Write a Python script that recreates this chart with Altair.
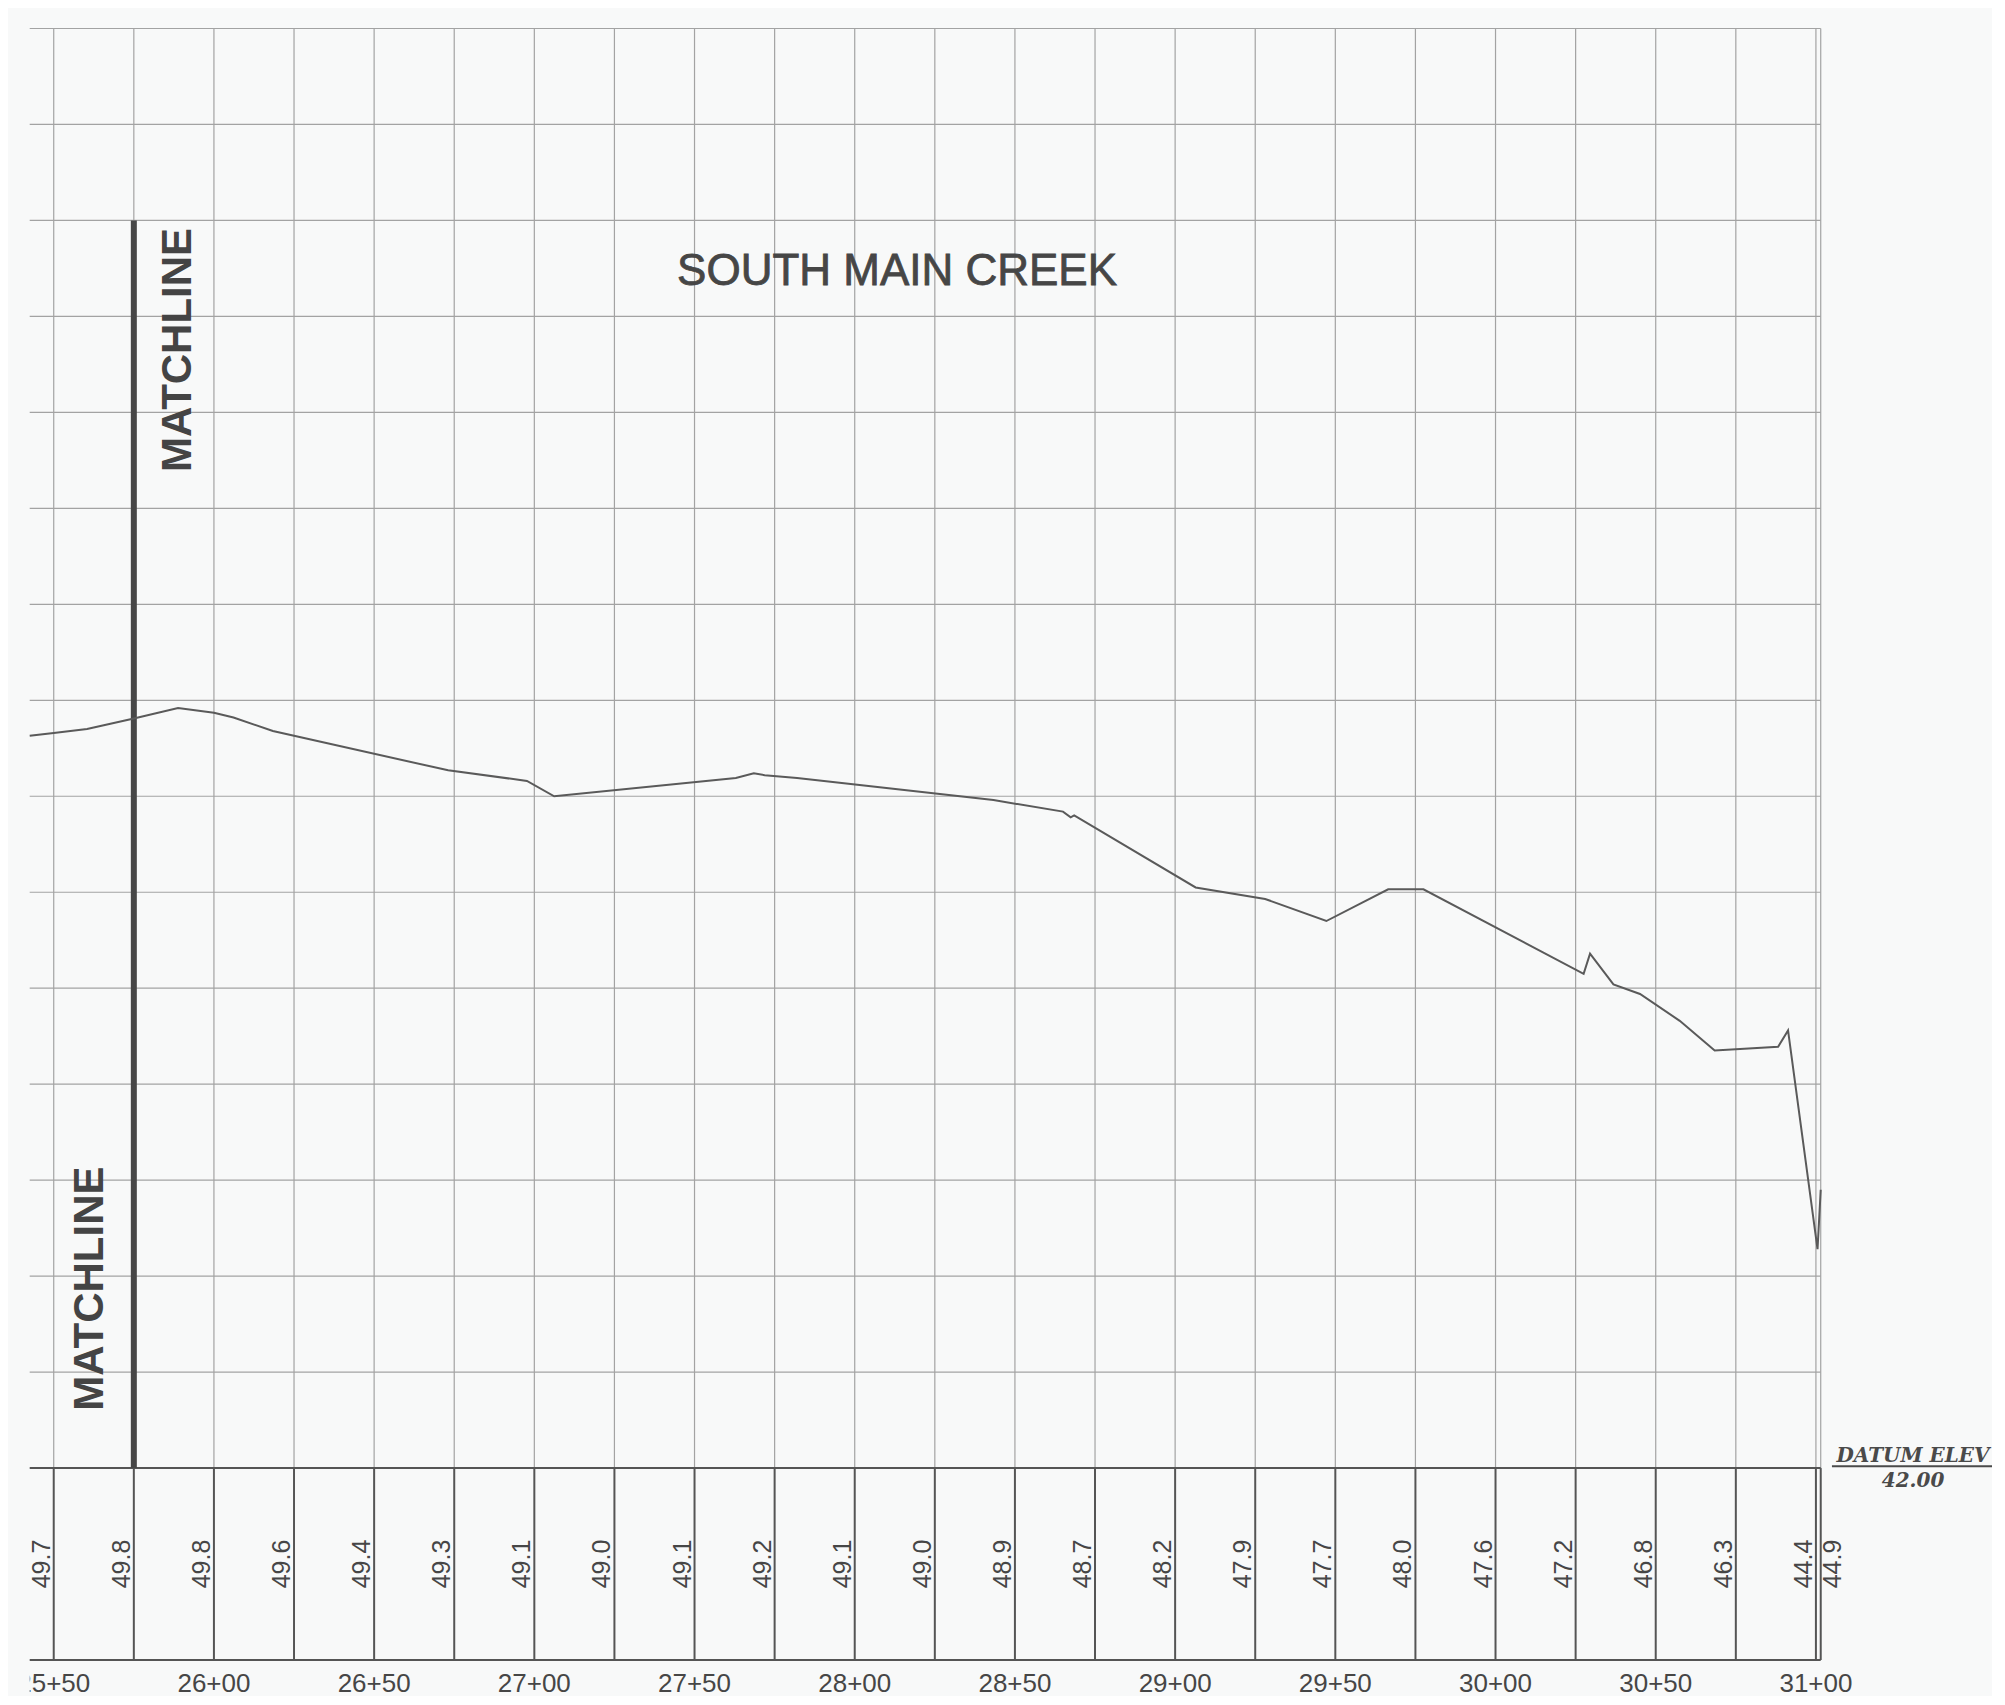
import altair as alt
import pandas as pd

# ---------------- data ----------------
profile_station = [2542.5, 2550, 2560.4, 2575, 2588.8, 2600, 2606.1, 2618.4, 2673.1, 2697.7,
                   2706.2, 2762.9, 2768.5, 2771.9, 2782.0, 2787.6, 2843.3, 2865.0, 2867.4, 2868.5,
                   2906.4, 2928.1, 2947.2, 2966.5, 2977.5, 3027.5, 3029.5, 3036.8, 3045.1, 3057.5,
                   3068.4, 3088.2, 3091.3, 3100.5, 3101.5]
profile_elev = [49.63, 49.66, 49.70, 49.81, 49.92, 49.87, 49.82, 49.68, 49.27, 49.16,
                49.00, 49.19, 49.24, 49.22, 49.19, 49.17, 48.96, 48.84, 48.78, 48.80,
                48.05, 47.93, 47.70, 48.03, 48.03, 47.15, 47.36, 47.04, 46.94, 46.66,
                46.35, 46.39, 46.56, 44.28, 44.90]

elev_label_station = [2550, 2575, 2600, 2625, 2650, 2675, 2700, 2725, 2750, 2775, 2800, 2825,
                      2850, 2875, 2900, 2925, 2950, 2975, 3000, 3025, 3050, 3075, 3100]
elev_label_text = ["49.7", "49.8", "49.8", "49.6", "49.4", "49.3", "49.1", "49.0", "49.1", "49.2",
                   "49.1", "49.0", "48.9", "48.7", "48.2", "47.9", "47.7", "48.0", "47.6", "47.2",
                   "46.8", "46.3", "44.4"]
end_label_station = [3101.5]
end_label_text = ["44.9"]

station_tick_pos = [2550, 2600, 2650, 2700, 2750, 2800, 2850, 2900, 2950, 3000, 3050, 3100]
station_tick_text = ["25+50", "26+00", "26+50", "27+00", "27+50", "28+00",
                     "28+50", "29+00", "29+50", "30+00", "30+50", "31+00"]

grid_stations = [2550, 2575, 2600, 2625, 2650, 2675, 2700, 2725, 2750, 2775, 2800, 2825,
                 2850, 2875, 2900, 2925, 2950, 2975, 3000, 3025, 3050, 3075, 3100, 3101.5]
grid_elevs = [43, 44, 45, 46, 47, 48, 49, 50, 51, 52, 53, 54, 55, 56, 57]
band_edges = [40, 42]
sheet_start, sheet_end = 2542.5, 3101.5
datum_elev = 42.0
matchline_station = 2575
matchline_top = 55

# ---------------- scales ----------------
X_DOM = [2542.5, 3155]
Y_DOM = [39.62, 57]
PX_FT_X = 3.204
PX_FT_Y = 95.97
W = (X_DOM[1] - X_DOM[0]) * PX_FT_X
H = (Y_DOM[1] - Y_DOM[0]) * PX_FT_Y

xs = alt.Scale(domain=X_DOM, nice=False, zero=False)
ys = alt.Scale(domain=Y_DOM, nice=False, zero=False)

def X(f):
    return alt.X(f, type="quantitative", scale=xs, axis=None)

def Y(f):
    return alt.Y(f, type="quantitative", scale=ys, axis=None)

TXT = "#464646"
GRID = "#a3a3a3"
DARK = "#555555"

# ---------------- rule tables ----------------
light = []
for e in grid_elevs:
    light.append(dict(s0=sheet_start, s1=sheet_end, e0=e, e1=e))
for s in grid_stations:
    light.append(dict(s0=s, s1=s, e0=band_edges[1], e1=grid_elevs[-1]))
light_df = pd.DataFrame(light)

dark = []
for e in band_edges:
    dark.append(dict(s0=sheet_start, s1=sheet_end, e0=e, e1=e))
for s in grid_stations:
    dark.append(dict(s0=s, s1=s, e0=band_edges[0], e1=band_edges[1]))
dark_df = pd.DataFrame(dark)

light_rules = alt.Chart(light_df).mark_rule(color=GRID, strokeWidth=1.2).encode(
    x=X("s0"), x2="s1", y=Y("e0"), y2="e1")
dark_rules = alt.Chart(dark_df).mark_rule(color=DARK, strokeWidth=2).encode(
    x=X("s0"), x2="s1", y=Y("e0"), y2="e1")

match_df = pd.DataFrame(dict(s0=[matchline_station], e0=[datum_elev], e1=[matchline_top]))
matchline = alt.Chart(match_df).mark_rule(color="#474747", strokeWidth=6).encode(
    x=X("s0"), y=Y("e0"), y2="e1")

prof_df = pd.DataFrame(dict(s=profile_station, e=profile_elev, o=list(range(len(profile_station)))))
profile = alt.Chart(prof_df).mark_line(color="#5a5a5a", strokeWidth=2).encode(
    x=X("s"), y=Y("e"), order="o:Q")

# elevation labels in the band
el_df = pd.DataFrame(dict(s=elev_label_station, t=elev_label_text, e=[41.0] * len(elev_label_text)))
elev_labels = alt.Chart(el_df).mark_text(
    angle=270, align="center", baseline="alphabetic", dy=-4,
    font="Liberation Sans", fontSize=25, color=TXT).encode(
    x=X("s"), y=Y("e"), text="t:N")

end_df = pd.DataFrame(dict(s=end_label_station, t=end_label_text, e=[41.0]))
end_labels = alt.Chart(end_df).mark_text(
    angle=270, align="center", baseline="alphabetic", dy=20,
    font="Liberation Sans", fontSize=25, color=TXT).encode(
    x=X("s"), y=Y("e"), text="t:N")

# station labels; the first one is cut by the sheet edge as in the drawing
st_df = pd.DataFrame(dict(s=station_tick_pos, t=station_tick_text, e=[39.67] * len(station_tick_pos)))
station_first = alt.Chart(st_df.iloc[:1]).mark_text(
    align="center", baseline="alphabetic", clip=True,
    font="Liberation Sans", fontSize=26, color=TXT).encode(
    x=X("s"), y=Y("e"), text="t:N")
station_rest = alt.Chart(st_df.iloc[1:]).mark_text(
    align="center", baseline="alphabetic",
    font="Liberation Sans", fontSize=26, color=TXT).encode(
    x=X("s"), y=Y("e"), text="t:N")

# annotations
title_df = pd.DataFrame(dict(s=[2813.2], e=[54.327], t=["SOUTH MAIN CREEK"]))
title = alt.Chart(title_df).mark_text(
    align="center", baseline="alphabetic", font="Liberation Sans", fontSize=44,
    color=TXT, stroke=TXT, strokeWidth=0.8).encode(x=X("s"), y=Y("e"), text="t:N")

ml_df = pd.DataFrame(dict(s=[2588.8, 2561.3], e=[53.65, 43.87], t=["MATCHLINE", "MATCHLINE"]))
ml_text = alt.Chart(ml_df).mark_text(
    angle=270, align="center", baseline="middle",
    font="Liberation Sans", fontWeight="bold", fontSize=42, color="#444444").encode(
    x=X("s"), y=Y("e"), text="t:N")

datum_df = pd.DataFrame(dict(s=[3130.3, 3130.3], e=[42.063, 41.802], t=["DATUM  ELEV", "42.00"]))
datum_text = alt.Chart(datum_df).mark_text(
    align="center", baseline="alphabetic", font="DejaVu Serif", fontStyle="italic",
    fontWeight="bold", fontSize=20, color="#4a4a4a").encode(
    x=X("s"), y=Y("e"), text="t:N")

ul_df = pd.DataFrame(dict(s0=[3105.0], s1=[3157.5], e0=[42.02]))
underline = alt.Chart(ul_df).mark_rule(color="#4a4a4a", strokeWidth=2).encode(
    x=X("s0"), x2="s1", y=Y("e0"))

chart = alt.layer(
    light_rules, dark_rules, matchline, profile,
    elev_labels, end_labels, station_first, station_rest,
    title, ml_text, datum_text, underline,
).properties(
    width=W, height=H,
    padding={"left": 21.7, "top": 20.5, "right": 0, "bottom": 0},
    autosize=alt.AutoSizeParams(type="none"),
    background="#f8f9f9",
).configure_view(stroke=None)

chart.save("out.html", embed_options={"renderer": "svg", "actions": False})
